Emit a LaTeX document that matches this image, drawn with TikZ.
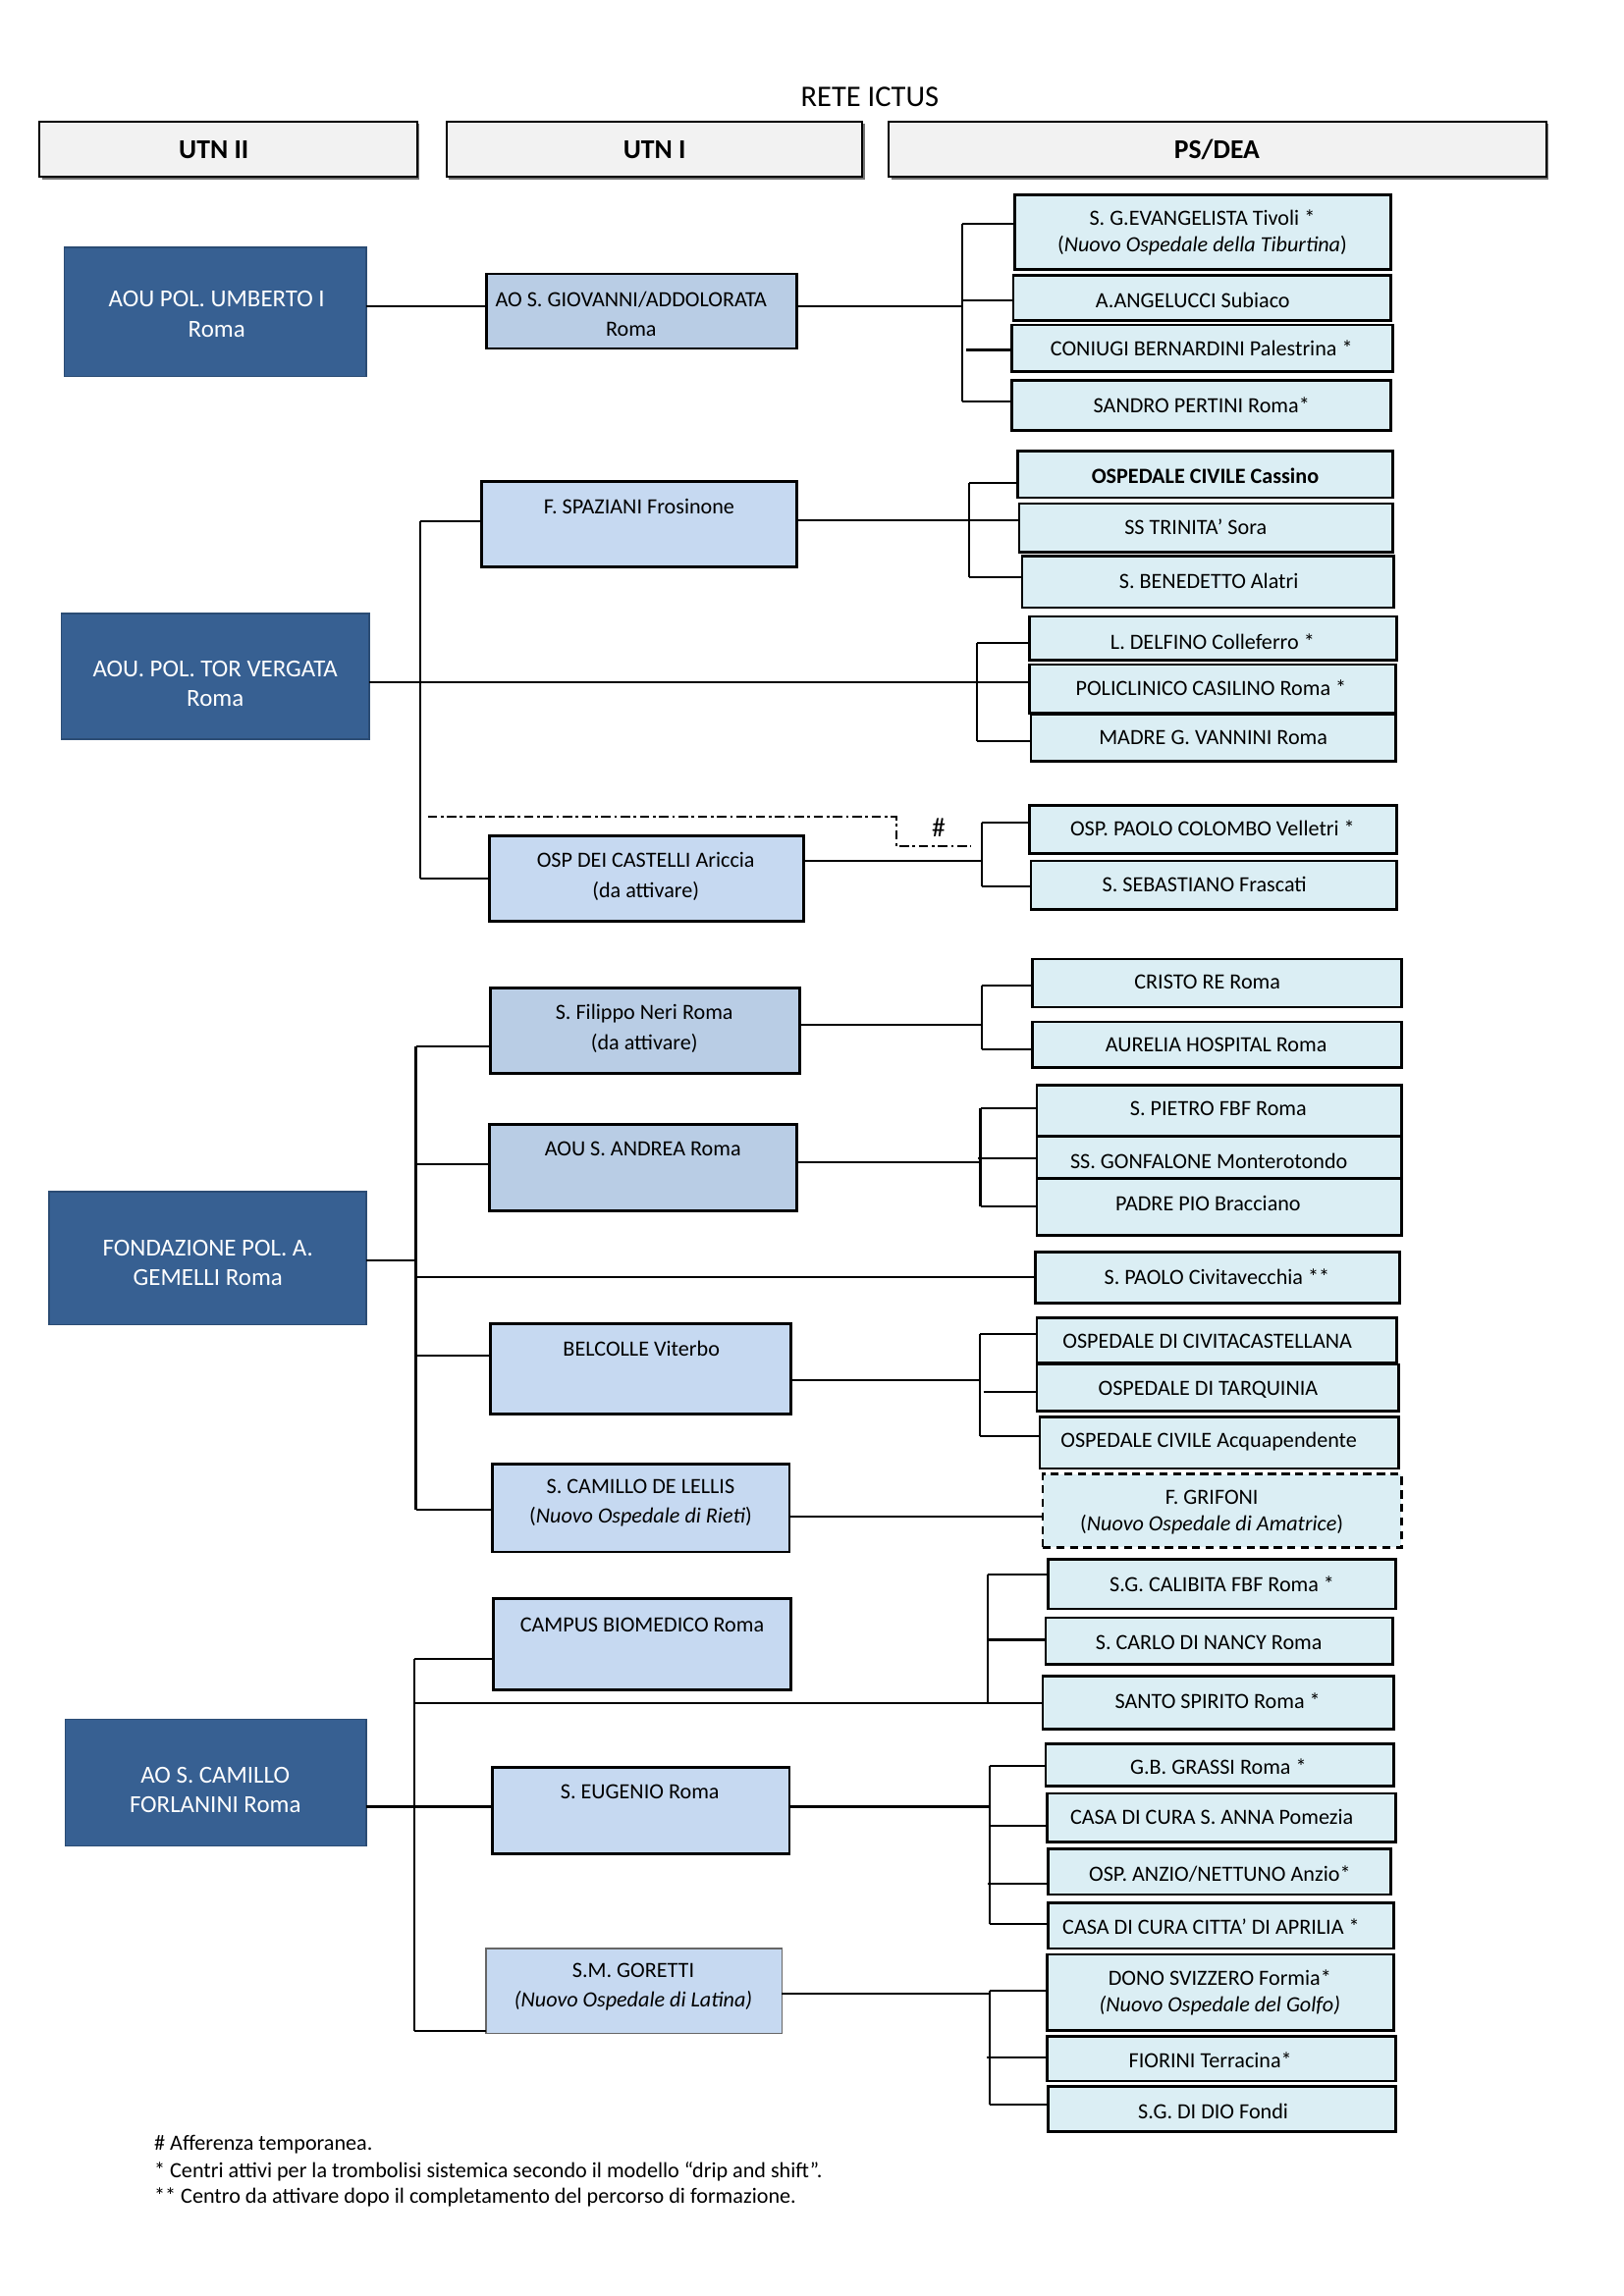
\documentclass[tikz,border=0pt]{standalone}
\usepackage{fontspec}
\setmainfont{Carlito}
\usetikzlibrary{fit}
\definecolor{darkblue}{HTML}{376092}
\definecolor{darkborder}{HTML}{2B4C74}
\definecolor{midblue}{HTML}{B9CDE5}
\definecolor{lightblue}{HTML}{C6D9F1}
\definecolor{aqua}{HTML}{DBEEF4}
\definecolor{headgray}{HTML}{F2F2F2}
\newcommand\mkbox[9]{\node[#1, fit={(#3,#4) (#5,#6)}] (#2) {};\node[#7] (#2t) at (#8) {#9};}
\begin{document}
\begin{tikzpicture}[x=0.18936mm, y=-0.18936mm,
  ln/.style={line width=0.8pt},
  bxbase/.style={inner sep=0pt, outer sep=0pt},
  hdr/.style={bxbase, draw=black, line width=0.7pt, fill=headgray},
  dk/.style={bxbase, draw=darkborder, line width=0.5pt, fill=darkblue},
  ua/.style={bxbase, draw=black, line width=1pt, fill=midblue},
  ub/.style={bxbase, draw=black, line width=1pt, fill=lightblue},
  ubt/.style={bxbase, draw=black!60, line width=0.5pt, fill=lightblue},
  ps/.style={bxbase, draw=black, line width=1pt, fill=aqua},
  psd/.style={ps, dash pattern=on 3pt off 2pt},
  tps/.style={font=\fontsize{8}{9.7}\selectfont, align=center, inner sep=0pt},
  tu/.style={font=\fontsize{8}{11}\selectfont, align=center, inner sep=0pt},
  tdk/.style={font=\fontsize{9}{11}\selectfont, align=center, text=white, inner sep=0pt},
  thd/.style={font=\fontsize{10}{12}\selectfont\bfseries, inner sep=0pt},
  foot/.style={font=\fontsize{8}{9.7}\selectfont, anchor=west, inner sep=0pt},
  dd/.style={line width=0.75pt, dash pattern=on 3.5pt off 1.3pt on 1pt off 1.3pt}
]
\useasboundingbox (0,0) rectangle (1109,1568.3);

% title and headers
\node[font=\fontsize{11}{13}\selectfont, inner sep=0pt] (title) at (594,66) {RETE ICTUS};
\fill[black!55] (28.5,84.5) rectangle (286.5,122.8);
\fill[black!55] (306.5,84.5) rectangle (590.5,122.8);
\fill[black!55] (608.5,84.5) rectangle (1057.5,122.8);
\mkbox{hdr}{h1}{27}{83}{285}{121}{thd}{146,102}{UTN II}
\mkbox{hdr}{h2}{305}{83}{589}{121}{thd}{447,102}{UTN I}
\mkbox{hdr}{h3}{607}{83}{1056}{121}{thd}{831,102}{PS/DEA}

% UTN II
\mkbox{dk}{d1}{44}{169}{250}{257}{tdk}{148,214.5}{AOU POL. UMBERTO I\\Roma}
\mkbox{dk}{d2}{42}{419}{252}{505}{tdk}{147,467}{AOU. POL. TOR VERGATA\\Roma}
\mkbox{dk}{d3}{33.5}{814}{250}{905}{tdk}{142,862.5}{FONDAZIONE POL. A.\\GEMELLI Roma}
\mkbox{dk}{d4}{44.7}{1174.5}{250}{1261}{tdk}{147,1222.5}{AO S. CAMILLO\\FORLANINI Roma}

% UTN I
\mkbox{ua}{u1}{332}{187}{544}{238}{tu}{431,214.5}{AO S. GIOVANNI/ADDOLORATA\\Roma}
\mkbox{ub}{u2}{329}{329}{544}{387}{tu}{436.5,346}{F. SPAZIANI Frosinone}
\mkbox{ub}{u3}{334}{571}{549}{629}{tu}{441,598.7}{OSP DEI CASTELLI Ariccia\\(da attivare)}
\mkbox{ua}{u4}{335}{675}{546}{733}{tu}{440,702.5}{S. Filippo Neri Roma\\(da attivare)}
\mkbox{ua}{u5}{334}{768}{544}{827}{tu}{439,785}{AOU S. ANDREA Roma}
\mkbox{ub}{u6}{335}{904}{540}{966}{tu}{438,921}{BELCOLLE Viterbo}
\mkbox{ub}{u7}{336}{1000}{539}{1060}{tu}{437.5,1026.5}{S. CAMILLO DE LELLIS\\(\textit{Nuovo Ospedale di Rieti})}
\mkbox{ub}{u8}{337}{1092}{540}{1154}{tu}{438.5,1110}{CAMPUS BIOMEDICO Roma}
\mkbox{ub}{u9}{336}{1207}{539}{1266}{tu}{437,1224}{S. EUGENIO Roma}
\mkbox{ubt}{u10}{332}{1331}{534}{1389}{tu}{432.5,1357}{S.M. GORETTI\\\textit{(Nuovo Ospedale di Latina)}}

% PS/DEA
\mkbox{ps}{p1}{693}{133}{950}{184}{tps}{821,159}{S. G.EVANGELISTA Tivoli *\\(\textit{Nuovo Ospedale della Tiburtina})}
\mkbox{ps}{p2}{692}{188}{950}{219}{tps}{814.5,205}{A.ANGELUCCI Subiaco}
\mkbox{ps}{p3}{691}{222}{951}{254}{tps}{820.5,238}{CONIUGI BERNARDINI Palestrina *}
\mkbox{ps}{p4}{691}{260}{950}{294}{tps}{820.5,277}{SANDRO PERTINI Roma*}
\mkbox{ps}{p5}{695}{308}{951}{340}{tps}{823,325}{\bfseries OSPEDALE CIVILE Cassino}
\mkbox{ps}{p6}{696}{344}{951}{377}{tps}{816.5,360}{SS TRINITA’ Sora}
\mkbox{ps}{p7}{698}{380}{952}{415}{tps}{825.5,397}{S. BENEDETTO Alatri}
\mkbox{ps}{p8}{703}{421}{954}{451}{tps}{828,438}{L. DELFINO Colleferro *}
\mkbox{ps}{p9}{703}{454}{953}{487}{tps}{827,470}{POLICLINICO CASILINO Roma *}
\mkbox{ps}{p10}{704}{488}{953}{520}{tps}{828.5,504}{MADRE G. VANNINI Roma}
\mkbox{ps}{p11}{703}{550}{954}{583}{tps}{828,566}{OSP. PAOLO COLOMBO Velletri *}
\mkbox{ps}{p12}{704}{588}{954}{621}{tps}{822.5,604}{S. SEBASTIANO Frascati}
\mkbox{ps}{p13}{705}{655}{957}{688}{tps}{824.5,671}{CRISTO RE Roma}
\mkbox{ps}{p14}{705}{698}{957}{729}{tps}{830.5,714}{AURELIA HOSPITAL Roma}
\mkbox{ps}{p15}{708}{741}{957}{776}{tps}{832,757}{S. PIETRO FBF Roma}
\mkbox{ps}{p16}{708}{776}{957}{805}{tps}{825.5,793}{SS. GONFALONE Monterotondo}
\mkbox{ps}{p17}{708}{805}{957}{844}{tps}{825,822}{PADRE PIO Bracciano}
\mkbox{ps}{p18}{707}{855}{956}{890}{tps}{831,872}{S. PAOLO Civitavecchia **}
\mkbox{ps}{p19}{708}{900}{954}{931}{tps}{824.5,916}{OSPEDALE DI CIVITACASTELLANA}
\mkbox{ps}{p20}{708}{932}{955}{964}{tps}{825,949}{OSPEDALE DI TARQUINIA}
\mkbox{ps}{p21}{710}{968}{955}{1003}{tps}{825.5,985}{OSPEDALE CIVILE Acquapendente}
\mkbox{psd}{p22}{712}{1007}{957}{1057}{tps}{827.5,1033}{F. GRIFONI\\(\textit{Nuovo Ospedale di Amatrice})}
\mkbox{ps}{p23}{716}{1065}{953}{1099}{tps}{834.5,1082}{S.G. CALIBITA FBF Roma *}
\mkbox{ps}{p24}{714}{1105}{951}{1137}{tps}{825.5,1122}{S. CARLO DI NANCY Roma}
\mkbox{ps}{p25}{712}{1145}{952}{1181}{tps}{831.5,1162}{SANTO SPIRITO Roma *}
\mkbox{ps}{p26}{714}{1191}{952}{1220}{tps}{832,1207}{G.B. GRASSI Roma *}
\mkbox{ps}{p27}{715}{1225}{953}{1258}{tps}{827.5,1241}{CASA DI CURA S. ANNA Pomezia}
\mkbox{ps}{p28}{716}{1263}{950}{1294}{tps}{833,1280}{OSP. ANZIO/NETTUNO Anzio*}
\mkbox{ps}{p29}{716}{1300}{952}{1331}{tps}{827,1316}{CASA DI CURA CITTA’ DI APRILIA *}
\mkbox{ps}{p30}{715}{1335}{952}{1387}{tps}{833,1361}{DONO SVIZZERO Formia*\\\textit{(Nuovo Ospedale del Golfo)}}
\mkbox{ps}{p31}{715}{1391}{953}{1421.5}{tps}{826.5,1407}{FIORINI Terracina*}
\mkbox{ps}{p32}{716}{1425}{953}{1456}{tps}{828.5,1442}{S.G. DI DIO Fondi}

% ---------- connectors: section 1
\coordinate (b1t) at (657,153);
\coordinate (b1c) at (657,205);
\coordinate (b1m) at (657,209);
\coordinate (b1d) at (660,239);
\coordinate (b1b) at (657,274);
\draw[ln] (d1.east |- b1m) -- (u1.west |- b1m);
\draw[ln] (u1.east |- b1m) -- (b1m);
\draw[ln] (b1t) -- (b1b);
\draw[ln] (b1t) -- (p1.west |- b1t);
\draw[ln] (b1c) -- (p2.west |- b1c);
\draw[ln] (b1d) -- (p3.west |- b1d);
\draw[ln] (b1b) -- (p4.west |- b1b);

% section 2
\coordinate (b2t) at (287,356);
\coordinate (b2b) at (287,600);
\draw[ln] (b2t) -- (b2b);
\draw[ln] (b2t) -- (u2.west |- b2t);
\draw[ln] (b2b) -- (u3.west |- b2b);
\coordinate (tv) at (667,466);
\draw[ln] (d2.east |- tv) -- (p9.west |- tv);
\coordinate (b3t) at (667,439);
\coordinate (b3b) at (667,506);
\draw[ln] (b3t) -- (b3b);
\draw[ln] (b3t) -- (p8.west |- b3t);
\draw[ln] (b3b) -- (p10.west |- b3b);
\coordinate (b4m) at (662,355.5);
\coordinate (b4t) at (662,330);
\coordinate (b4b) at (662,394);
\draw[ln] (u2.east |- b4m) -- (p6.west |- b4m);
\draw[ln] (b4t) -- (b4b);
\draw[ln] (b4t) -- (p5.west |- b4t);
\draw[ln] (b4b) -- (p7.west |- b4b);
\coordinate (b5m) at (671,588);
\coordinate (b5t) at (670.5,562);
\coordinate (b5b) at (670.5,605.5);
\draw[ln] (u3.east |- b5m) -- (b5m);
\draw[ln] (b5t) -- (b5b);
\draw[ln] (b5t) -- (p11.west |- b5t);
\draw[ln] (b5b) -- (p12.west |- b5b);
\coordinate (dd1) at (292,557.6);
\coordinate (dd2) at (612,557.6);
\coordinate (dd3) at (612,578);
\coordinate (dd4) at (663,578);
\draw[dd] (dd1) -- (dd2) -- (dd3) -- (dd4);
\node[font=\fontsize{10}{12}\selectfont, inner sep=0pt] (hash) at (641,565) {\#};

% section 3
\coordinate (b6t) at (284,715);
\coordinate (b6a) at (284,795);
\coordinate (b6m) at (284,861);
\coordinate (b6p) at (284,872.4);
\coordinate (b6c) at (284,926);
\coordinate (b6b) at (284,1031);
\draw[ln] (d3.east |- b6m) -- (b6m);
\draw[ln] (b6t) -- (b6b);
\draw[ln] (b6t) -- (u4.west |- b6t);
\draw[ln] (b6a) -- (u5.west |- b6a);
\draw[ln] (b6p) -- (p18.west |- b6p);
\draw[ln] (b6c) -- (u6.west |- b6c);
\draw[ln] (b6b) -- (u7.west |- b6b);
\coordinate (b7m) at (670.5,700);
\coordinate (b7t) at (670.5,673);
\coordinate (b7b) at (670.5,716.5);
\draw[ln] (u4.east |- b7m) -- (b7m);
\draw[ln] (b7t) -- (b7b);
\draw[ln] (b7t) -- (p13.west |- b7t);
\draw[ln] (b7b) -- (p14.west |- b7b);
\coordinate (b8t) at (669.5,757);
\coordinate (b8c) at (668,791);
\coordinate (b8m) at (669.5,794);
\coordinate (b8b) at (669.5,824);
\draw[ln] (u5.east |- b8m) -- (b8m);
\draw[ln] (b8t) -- (b8b);
\draw[ln] (b8t) -- (p15.west |- b8t);
\draw[ln] (b8c) -- (p16.west |- b8c);
\draw[ln] (b8b) -- (p17.west |- b8b);
\coordinate (b9t) at (669.4,911);
\coordinate (b9m) at (669.4,942.5);
\coordinate (b9c) at (671.6,950.7);
\coordinate (b9b) at (669.4,981);
\draw[ln] (u6.east |- b9m) -- (b9m);
\draw[ln] (b9t) -- (b9b);
\draw[ln] (b9t) -- (p19.west |- b9t);
\draw[ln] (b9c) -- (p20.west |- b9c);
\draw[ln] (b9b) -- (p21.west |- b9b);
\coordinate (g1) at (712,1036);
\draw[ln] (u7.east |- g1) -- (p22.west |- g1);

% section 4
\coordinate (b11t) at (283,1133);
\coordinate (b11s) at (283,1163.5);
\coordinate (b11m) at (283,1234);
\coordinate (b11b) at (283,1387.4);
\draw[ln] (d4.east |- b11m) -- (u9.west |- b11m);
\draw[ln] (b11t) -- (b11b);
\draw[ln] (b11t) -- (u8.west |- b11t);
\draw[ln] (b11b) -- (u10.west |- b11b);
\coordinate (b12t) at (674.5,1075.6);
\coordinate (b12c) at (674.5,1120);
\coordinate (b12m) at (674.5,1163.5);
\draw[ln] (b11s) -- (b12m) -- (p25.west |- b12m);
\draw[ln] (b12t) -- (b12m);
\draw[ln] (b12t) -- (p23.west |- b12t);
\draw[ln] (b12c) -- (p24.west |- b12c);
\coordinate (b13t) at (676,1206.4);
\coordinate (b13m) at (676,1234);
\coordinate (b13c) at (676,1247);
\coordinate (b13d) at (674.5,1286.7);
\coordinate (b13b) at (676,1314);
\draw[ln] (u9.east |- b13m) -- (b13m);
\draw[ln] (b13t) -- (b13b);
\draw[ln] (b13t) -- (p26.west |- b13t);
\draw[ln] (b13c) -- (p27.west |- b13c);
\draw[ln] (b13d) -- (p28.west |- b13d);
\draw[ln] (b13b) -- (p29.west |- b13b);
\coordinate (b14t) at (676,1359.7);
\coordinate (b14m) at (676,1362);
\coordinate (b14c) at (674,1405.3);
\coordinate (b14b) at (676,1437.4);
\draw[ln] (u10.east |- b14m) -- (b14m);
\draw[ln] (b14t) -- (b14b);
\draw[ln] (b14t) -- (p30.west |- b14t);
\draw[ln] (b14c) -- (p31.west |- b14c);
\draw[ln] (b14b) -- (p32.west |- b14b);

% footer
\node[foot] (f1) at (105,1465) {\# Afferenza temporanea.};
\node[foot] (f2) at (105,1483) {* Centri attivi per la trombolisi sistemica secondo il modello “drip and shift”.};
\node[foot] (f3) at (105,1501) {** Centro da attivare dopo il completamento del percorso di formazione.};
\end{tikzpicture}
\end{document}
